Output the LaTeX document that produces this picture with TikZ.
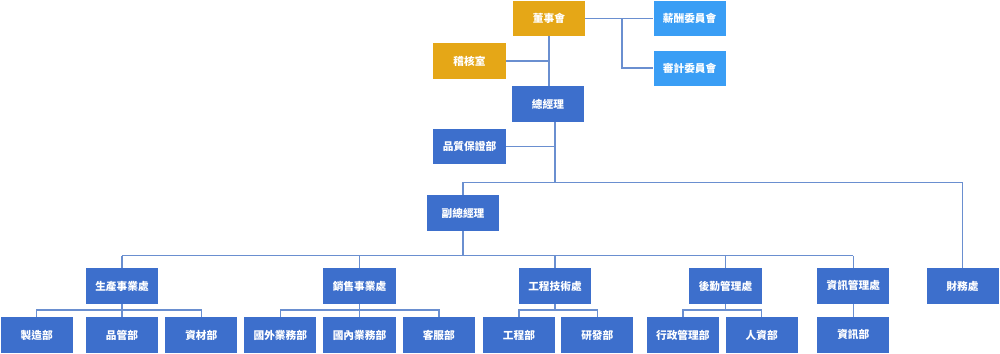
\documentclass[tikz,border=0pt]{standalone}
\usepackage{fontspec}
\setmainfont{Noto Sans CJK TC}
\usetikzlibrary{positioning}
\definecolor{gold}{RGB}{229,167,23}
\definecolor{sky}{RGB}{58,158,245}
\definecolor{royal}{RGB}{61,111,204}
\definecolor{linkblue}{RGB}{106,143,208}

\begin{document}
\begin{tikzpicture}[x=0.025cm, y=-0.025cm,
  font=\fontsize{7.6}{9}\selectfont\bfseries,
  box/.style={fill=royal, text=white, minimum width=1.8cm,
              minimum height=0.875cm, inner sep=0pt},
  topbox/.style={box, fill=gold},
  cmtbox/.style={box, fill=sky},
  link/.style={draw=linkblue, line width=1.1pt}]
\useasboundingbox (0,0) rectangle (1000,354);
\node[topbox] (board) at (549,18.5) {董事會};
\node[cmtbox, right=1.7cm of board] (pay) {薪酬委員會};
\node[cmtbox, below=0.35cm of pay] (audit) {審計委員會};
\node[topbox] (internal) at (469.5,61) {稽核室};
\node[box] (gm) at (548,104) {總經理};
\node[box] (qa) at (469.5,146.5) {品質保證部};
\node[box] (vgm) at (463,213) {副總經理};
\node[box] (prod) at (122,286) {生產事業處};
\node[box] (sales) at (359.5,286) {銷售事業處};
\node[box] (eng) at (555,286) {工程技術處};
\node[box] (logi) at (725.5,286) {後勤管理處};
\node[box] (info) at (853.3,286) {資訊管理處};
\node[box] (fin) at (962.5,286) {財務處};
\node[box] (mfg) at (36.7,335) {製造部};
\node[box] (qc) at (122,335) {品管部};
\node[box] (mat) at (201.3,335) {資材部};
\node[box] (intl) at (280.3,335) {國外業務部};
\node[box] (dom) at (359.5,335) {國內業務部};
\node[box] (svc) at (438.8,335) {客服部};
\node[box] (engd) at (519,335) {工程部};
\node[box] (rnd) at (597.3,335) {研發部};
\node[box] (admin) at (682.8,335) {行政管理部};
\node[box] (hr) at (761.7,335) {人資部};
\node[box] (infod) at (853.3,335) {資訊部};
\coordinate (cmtbus) at (622,18.5);
\coordinate (gmbus) at (555,182.5);
\coordinate (divbus) at (463,255.5);
\draw[link] (board) -- (pay);
\draw[link] (cmtbus) |- (audit.west);
\draw[link] (board.south) -- (board.south |- gm.north);
\draw[link] (internal.east) -- (internal.east -| board.south);
\draw[link] (gm.south -| gmbus) -- (gmbus);
\draw[link] (qa.east) -- (qa.east -| gmbus);
\draw[link] (vgm.north) |- (gmbus) -| (fin.north);
\draw[link] (vgm.south) -- (divbus);
\draw[link] (prod.north |- divbus) -- (info.north |- divbus);
\foreach \d in {prod,sales,eng,logi,info}
  \draw[link] (\d.north |- divbus) -- (\d.north);
\foreach \d/\a/\b in {prod/mfg/mat, sales/intl/svc, eng/engd/rnd, logi/admin/hr}
  \draw[link] (\a.north) |- ([yshift=-0.16cm]\d.south) -| (\b.north)
              (\d.south) -- ([yshift=-0.16cm]\d.south);
\foreach \d/\c in {prod/qc, sales/dom}
  \draw[link] ([yshift=-0.16cm]\d.south) -- (\c.north);
\draw[link] (info.south) -- (infod.north);
\end{tikzpicture}
\end{document}
